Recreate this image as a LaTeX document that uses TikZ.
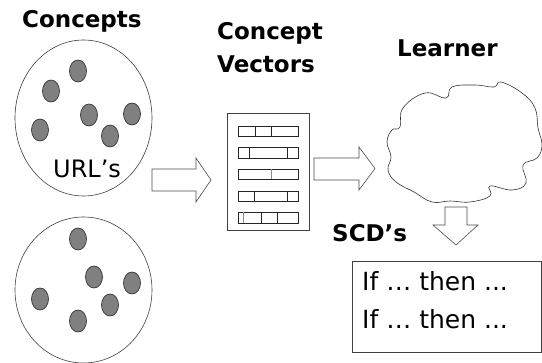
\documentclass[tikz,border=0pt]{standalone}
\usepackage{fontspec}
\setmainfont{DejaVu Sans}
\usetikzlibrary{shapes.geometric}
\begin{document}
\begin{tikzpicture}[x=1pt,y=-1pt,
  title/.style={font=\fontsize{23}{23}\selectfont\bfseries, anchor=base west, inner sep=0pt},
  plain/.style={font=\fontsize{24}{24}\selectfont, anchor=base west, inner sep=0pt},
  blob/.style={draw=black!75, line width=0.6pt},
  dot/.style={ellipse, draw=black!80, fill=black!50, line width=0.7pt, minimum width=17pt, minimum height=22pt, inner sep=0pt},
  blockarrow/.style={draw=black!70, line width=0.6pt, fill=white},
  bar/.style={draw=black!85, line width=0.6pt},
  divider/.style={draw=black!85, line width=0.6pt},
  gdivider/.style={draw=black!45, line width=1pt}
]
\useasboundingbox (0,0) rectangle (542,363);
\fill[white] (0,0) rectangle (542,363);

% titles
\node[title] (tconcepts) at (22,28) {Concepts};
\node[title] (tcv1) at (217,40) {Concept};
\node[title] (tcv2) at (217,73) {Vectors};
\node[title] (tlearner) at (397,57) {Learner};
\node[title] (tscd) at (332,242) {SCD’s};

% concept circles
\draw[blob] (83.5,118) ellipse [x radius=68.5, y radius=78];
\draw[blob] (83.5,290) ellipse [x radius=68.5, y radius=73];
\node[plain] (urls) at (53,178) {URL’s};

\foreach \n/\p in {a/{(78,71)}, b/{(51,91)}, c/{(89,115)}, d/{(132,114)}, e/{(40,130)}, f/{(110,136)}}
  \node[dot] (d1\n) at \p {};
\foreach \n/\p in {a/{(78,239)}, b/{(94,277)}, c/{(132,283)}, d/{(40,299)}, e/{(110,305)}, f/{(78,321)}}
  \node[dot] (d2\n) at \p {};

% block arrow 1
\draw[blockarrow] (152,169) -- (196,169) -- (196,158) -- (211,180) -- (196,202) -- (196,191) -- (152,191) -- cycle;

% concept vectors document
\node[draw=black!75, line width=0.6pt, minimum width=82pt, minimum height=117pt, inner sep=0pt] (doc) at (268,171.5) {};
\foreach \y in {126,147.5,169,191,212.5}
  \draw[bar] (238,\y) rectangle (298,\y+10.5);
\draw[divider] (255,126) -- (255,136.5) (271,126) -- (271,136.5);
\draw[divider] (249,147.5) -- (249,158) (287.5,147.5) -- (287.5,158);
\draw[gdivider] (271,169) -- (271,179.5);
\draw[divider] (254.5,191) -- (254.5,201.5) (287.5,191) -- (287.5,201.5);
\draw[gdivider] (243,212.5) -- (243,223);
\draw[divider] (261,212.5) -- (261,223) (277,212.5) -- (277,223);

% block arrow 2
\draw[blockarrow] (314,158) -- (359,158) -- (359,147) -- (375,168.5) -- (359,190) -- (359,180) -- (314,180) -- cycle;

% cloud (learner)
\draw[draw=black!80, line width=0.6pt] plot[smooth cycle, tension=0.7] coordinates {
 (450,201) (432,202) (414,192) (396,182) (388,170) (391,157)
 (387,142) (392,130) (400,127) (403,108) (425,93) (446,98)
 (452,87) (475,85) (494,87) (501,82) (522,93) (535,108) (538,128)
 (542,145) (537,158) (523,165) (526,183) (512,190) (490,186)
 (490,196) (470,202)};
\coordinate (learner) at (462,142);

% block arrow 3 (down)
\draw[blockarrow] (445,207) -- (467,207) -- (467,225) -- (478,225) -- (456,245) -- (433,225) -- (445,225) -- cycle;

% rules box
\node[draw=black!75, line width=0.6pt, minimum width=189pt, minimum height=91pt, inner sep=0pt] (rules) at (446.5,306.5) {};
\node[plain, font=\fontsize{25}{25}\selectfont] (r1) at (362,291) {If … then ...};
\node[plain, font=\fontsize{25}{25}\selectfont] (r2) at (362,329) {If … then ...};
\end{tikzpicture}
\end{document}
